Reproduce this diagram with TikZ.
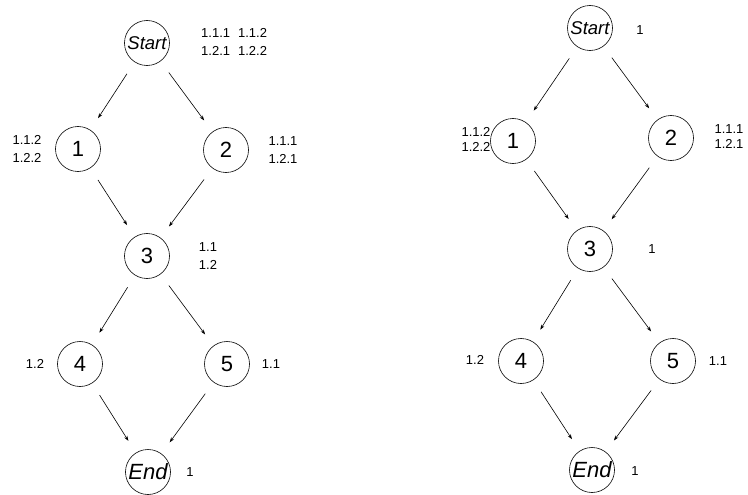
\documentclass[tikz,border=0pt]{standalone}
\usepackage{fontspec}
\setmainfont{Liberation Sans}
\usetikzlibrary{arrows.meta}
\tikzset{
  state/.style={circle,draw=black,line width=0.6pt,minimum size=45pt,inner sep=0pt,
    font=\fontsize{22}{22}\selectfont},
  term/.style={state,font=\fontsize{18.5}{18}\selectfont\itshape},
  tag/.style={font=\fontsize{13}{18}\selectfont,align=left,inner sep=0pt},
  rtag/.style={tag,font=\fontsize{13}{15}\selectfont},
  arr/.style={line width=0.6pt,-{Stealth[length=5pt,width=3.5pt]},
    shorten <=14pt,shorten >=14pt}
}
\begin{document}
\begin{tikzpicture}[x=1pt,y=-1pt]
\useasboundingbox (0,0) rectangle (748,495);
% left graph: x, y in pixels
\node[term] (ls) at (147,43) {Start};
\node[state] (l1) at (78,149) {1};
\node[state] (l2) at (226,150) {2};
\node[state] (l3) at (147,256) {3};
\node[state] (l4) at (80,364) {4};
\node[state] (l5) at (227,364) {5};
\node[term,font=\fontsize{22}{22}\selectfont\itshape] (le) at (148,472) {End};
\node[tag,anchor=west] (ls-t) at (201,42) {1.1.1\hspace{8pt}1.1.2\\1.2.1\hspace{8pt}1.2.2};
\node[tag] (l1-t) at (27,149) {1.1.2\\1.2.2};
\node[tag] (l2-t) at (283,150) {1.1.1\\1.2.1};
\node[tag] (l3-t) at (208,256) {1.1\\1.2};
\node[tag] (l4-t) at (35,364) {1.2};
\node[tag] (l5-t) at (271,364) {1.1};
\node[tag] (le-t) at (190,472) {1};
\draw[arr] (ls) -- (l1);
\draw[arr] (ls) -- (l2);
\draw[arr] (l1) -- (l3);
\draw[arr] (l2) -- (l3);
\draw[arr] (l3) -- (l4);
\draw[arr] (l3) -- (l5);
\draw[arr] (l4) -- (le);
\draw[arr] (l5) -- (le);
% right graph
\node[term] (rs) at (590,28) {Start};
\node[state] (r1) at (513,141) {1};
\node[state] (r2) at (671,138) {2};
\node[state] (r3) at (590,249) {3};
\node[state] (r4) at (521,361) {4};
\node[state] (r5) at (673,361) {5};
\node[term,font=\fontsize{22}{22}\selectfont\itshape] (re) at (592,470) {End};
\node[rtag] (rs-t) at (640,30) {1};
\node[rtag] (r1-t) at (476,139) {1.1.2\\1.2.2};
\node[rtag] (r2-t) at (729,137) {1.1.1\\1.2.1};
\node[rtag] (r3-t) at (652,249) {1};
\node[rtag] (r4-t) at (475,360) {1.2};
\node[rtag] (r5-t) at (718,361) {1.1};
\node[rtag] (re-t) at (635,471) {1};
\draw[arr] (rs) -- (r1);
\draw[arr] (rs) -- (r2);
\draw[arr] (r1) -- (r3);
\draw[arr] (r2) -- (r3);
\draw[arr] (r3) -- (r4);
\draw[arr] (r3) -- (r5);
\draw[arr] (r4) -- (re);
\draw[arr] (r5) -- (re);
\end{tikzpicture}
\end{document}
